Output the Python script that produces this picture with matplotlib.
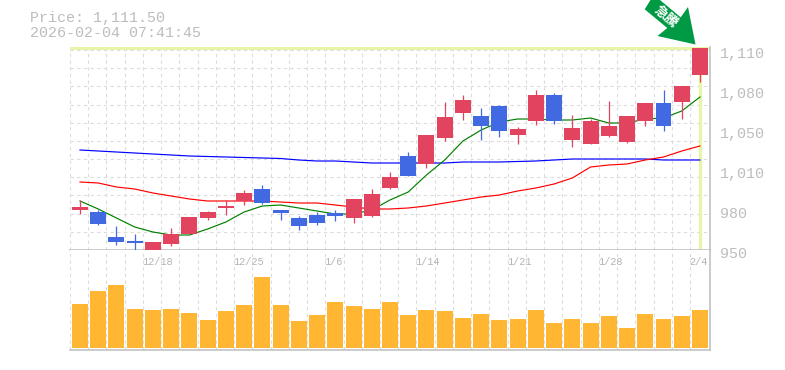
#!/usr/bin/env python3
"""Candlestick chart with moving averages and volume panel."""

import numpy as np

import matplotlib
matplotlib.use('Agg')
import matplotlib.pyplot as plt
from matplotlib.patches import Polygon

FONT = 'Liberation Mono'
GREY = '#bdbdbd'
GRID = '#dcdcdc'
UP = '#e2435f'
DOWN = '#4169e1'
HILITE = '#e6f5a8'

opens = [982.0, 980.4, 960.4, 957.2, 950.0, 954.8, 962.8, 975.6, 983.6, 989.2, 998.8, 982.0,
         975.6, 978.0, 979.6, 975.6, 977.2, 999.6, 1025.2, 1018.8, 1039.6, 1059.6, 1057.2, 1065.2,
         1042.0, 1053.2, 1074.0, 1038.0, 1034.8, 1041.2, 1036.4, 1053.2, 1067.6, 1068.4, 1090.0]
closes = [984.4, 970.8, 956.4, 955.6, 956.4, 962.8, 976.4, 980.4, 985.2, 995.6, 987.6, 979.6,
          969.2, 971.6, 977.2, 990.8, 994.8, 1008.4, 1009.2, 1042.0, 1056.4, 1070.0, 1049.2, 1045.2,
          1046.8, 1074.0, 1053.2, 1047.6, 1053.2, 1049.2, 1057.2, 1067.6, 1049.2, 1081.2, 1111.5]
highs = [990.0, 982.0, 969.2, 962.8, 956.4, 967.6, 976.4, 981.2, 990.0, 998.0, 1002.0, 982.0,
         977.2, 980.4, 982.0, 990.8, 998.8, 1012.4, 1028.4, 1042.0, 1068.4, 1074.0, 1063.6, 1066.0,
         1048.4, 1078.0, 1075.6, 1058.0, 1054.8, 1069.2, 1057.2, 1067.6, 1078.0, 1081.2, 1111.5]
lows = [978.8, 970.0, 954.0, 950.0, 950.0, 953.2, 962.8, 974.0, 978.0, 986.0, 986.8, 974.0,
        966.0, 970.0, 973.2, 971.6, 976.4, 998.8, 1009.2, 1015.6, 1037.2, 1054.0, 1038.0, 1040.4,
        1034.8, 1050.0, 1050.8, 1032.4, 1034.8, 1040.4, 1035.6, 1049.2, 1045.2, 1054.8, 1084.4]

ma_short = [989.2, 982.8, 975.6, 968.4, 964.4, 962.0, 962.0, 966.8, 972.4, 980.4, 985.2, 986.0,
            983.6, 981.2, 978.8, 978.8, 982.0, 990.0, 996.4, 1010.0, 1022.0, 1037.2, 1046.0, 1052.4,
            1054.8, 1054.8, 1054.0, 1054.0, 1055.6, 1051.6, 1051.6, 1054.8, 1055.6, 1061.2, 1072.4]
ma_mid = [1004.4, 1003.6, 1000.4, 998.8, 995.6, 993.2, 990.8, 989.2, 989.2, 989.2, 989.2, 988.4,
          987.6, 987.6, 986.0, 984.4, 982.8, 982.8, 983.6, 985.2, 987.6, 990.0, 992.4, 994.0,
          997.2, 999.6, 1002.8, 1007.6, 1016.4, 1018.0, 1018.8, 1022.0, 1024.4, 1029.2, 1033.2]
ma_long = [1030.0, 1029.2, 1028.4, 1027.6, 1026.8, 1026.0, 1025.2, 1024.8, 1024.4, 1024.0, 1023.6, 1023.2,
           1022.0, 1021.2, 1021.2, 1020.4, 1019.6, 1019.6, 1019.6, 1019.6, 1019.6, 1020.4, 1020.4, 1020.4,
           1020.8, 1021.2, 1022.0, 1022.8, 1022.8, 1022.8, 1022.8, 1022.8, 1022.0, 1022.0, 1022.0]

volumes = [44, 57, 63, 39, 38, 39, 35, 28, 37, 43, 71, 43, 27, 33, 46, 42, 39, 46,
           33, 38, 37, 30, 34, 28, 29, 38, 25, 29, 25, 32, 20, 34, 29, 32, 38]

date_idx = [4, 9, 14, 19, 24, 29, 34]
date_labels = ['12/18', '12/25', '1/6', '1/14', '1/21', '1/28', '2/4']
price_ticks = [950, 982, 1014, 1046, 1078, 1110]
price_labels = ['950', '980', '1,010', '1,050', '1,080', '1,110']
title_lines = ['Price: 1,111.50', '2026-02-04 07:41:45']
arrow_text = '急騰'

W, H = 785, 370


def px_axes(fig, x0, y0, x1, y1):
    return fig.add_axes([x0 / W, 1 - y1 / H, (x1 - x0) / W, (y1 - y0) / H])


def style(ax):
    ax.set_xlim(-0.548, 34.55)
    ax.set_xticks(np.arange(35) - 0.548)
    ax.tick_params(length=0, labelbottom=False, labelleft=False)
    ax.set_axisbelow(True)
    ax.grid(True, axis='x', color=GRID, ls=(0, (3, 3)), lw=0.8)
    for side in ['top', 'left']:
        ax.spines[side].set_visible(False)
    for side in ['bottom', 'right']:
        ax.spines[side].set_color(GREY)
        ax.spines[side].set_linewidth(1.1)


def main():
    fig = plt.figure(figsize=(W / 100, H / 100), dpi=100)
    x = np.arange(len(opens))

    ax = px_axes(fig, 70, 47, 710, 250)
    style(ax)
    ax.set_ylim(950, 1112.4)
    ax.set_yticks(np.linspace(950, 1110, 12))
    ax.grid(True, axis='y', color=GRID, ls=(0, (3, 3)), lw=0.8)

    # highlight for the latest bar
    ax.axhspan(1110, 1112.4, color=HILITE, lw=0, zorder=1)
    ax.vlines(x[-1], 951, 1110, color=HILITE, lw=2.3, zorder=1)

    ax.plot(x, ma_long, color='#0000ff', lw=0.85, zorder=2)
    ax.plot(x, ma_mid, color='#ff0000', lw=0.85, zorder=2)
    ax.plot(x, ma_short, color='#008000', lw=0.85, zorder=2)

    colors = [UP if c >= o else DOWN for o, c in zip(opens, closes)]
    bottoms = np.minimum(opens, closes)
    heights = np.abs(np.subtract(closes, opens))
    ax.vlines(x, lows, highs, colors=colors, lw=0.9, zorder=3)
    ax.bar(x, heights, 0.877, bottom=bottoms, color=colors, lw=0, zorder=4)

    for val, lab in zip(price_ticks, price_labels):
        ax.annotate(lab, xy=(1, val), xycoords=ax.get_yaxis_transform(),
                    xytext=(7.2, -2.6), textcoords='offset points', va='center', ha='left',
                    family=FONT, fontsize=10.8, color=GREY, annotation_clip=False)

    vol = px_axes(fig, 70, 250, 710, 350)
    style(vol)
    vol.set_ylim(-2, 98)
    vol.set_yticks([])
    vol.bar(x, volumes, 0.877, color='#ffb733', lw=0, zorder=3)
    for i, lab in zip(date_idx, date_labels):
        vol.annotate(lab, xy=(i, 1), xycoords=vol.get_xaxis_transform(),
                     xytext=(-7.8, -8.6), textcoords='offset points', va='center',
                     ha='left', family=FONT, fontsize=7.4, color='#b4b4b4',
                     annotation_clip=False, zorder=5)

    # header text and the flag arrow use raw pixel positions
    over = fig.add_axes([0, 0, 1, 1], facecolor='none')
    over.set_xlim(0, W)
    over.set_ylim(H, 0)
    over.axis('off')
    for y, line in zip([18, 33], title_lines):
        over.text(29.5, y, line, family=FONT, fontsize=10.8, color=GREY, va='center', ha='left')
    over.add_patch(Polygon([(695.5, 44.5), (657.5, 36), (667.3, 28), (644.7, 9.3), (650.5, 0),
                            (660, 0), (680.7, 17.3), (688, 7)],
                           closed=True, fc='#009944', ec='none'))
    over.text(666, 16.5, arrow_text, family=['Noto Sans CJK JP', 'DejaVu Sans'], fontsize=9.5,
              fontweight='bold', color='white', rotation=-40, rotation_mode='anchor',
              va='center', ha='center')

    fig.savefig('out.png', dpi=100)
    plt.close(fig)


if __name__ == '__main__':
    main()
